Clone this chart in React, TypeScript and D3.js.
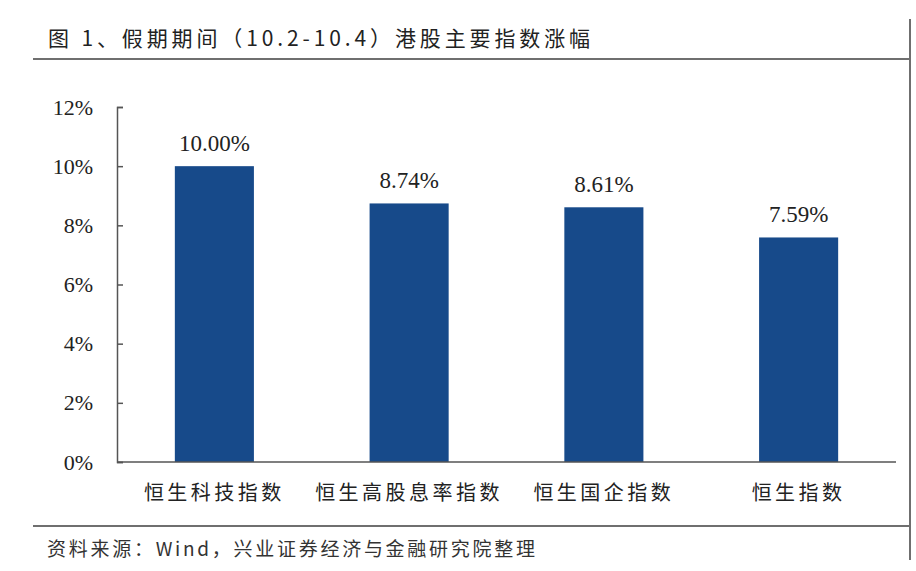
import React, { useEffect, useRef } from "react";
import * as d3 from "d3";

const categories = ["恒生科技指数", "恒生高股息率指数", "恒生国企指数", "恒生指数"];
const values = [10.0, 8.74, 8.61, 7.59];
const yTicks = [0, 2, 4, 6, 8, 10, 12];
const titleText = "图 1、假期期间（10.2-10.4）港股主要指数涨幅";
const sourceText = "资料来源：Wind，兴业证券经济与金融研究院整理";

const W = 916;
const H = 571;
const CJK = "'Noto Sans CJK SC', 'Noto Sans', sans-serif";
const SERIF = "'Liberation Serif', 'DejaVu Serif', serif";

export default function App() {
  const ref = useRef<SVGSVGElement>(null);

  useEffect(() => {
    const svg = d3.select(ref.current);
    svg.selectAll("*").remove();

    // frame lines
    svg.append("line").attr("x1", 33).attr("x2", 911).attr("y1", 59).attr("y2", 59)
      .attr("stroke", "#6f6f6f").attr("stroke-width", 2);
    svg.append("line").attr("x1", 33).attr("x2", 911).attr("y1", 526).attr("y2", 526)
      .attr("stroke", "#6f6f6f").attr("stroke-width", 2);
    svg.append("line").attr("x1", 910).attr("x2", 910).attr("y1", 19).attr("y2", 560)
      .attr("stroke", "#6f6f6f").attr("stroke-width", 2);

    svg.append("text").attr("x", 48).attr("y", 46)
      .attr("font-family", CJK).attr("font-size", 21).attr("fill", "#222")
      .attr("textLength", 542).attr("lengthAdjust", "spacing")
      .text(titleText);

    svg.append("text").attr("x", 47).attr("y", 556)
      .attr("font-family", CJK).attr("font-size", 19).attr("fill", "#333")
      .attr("textLength", 488).attr("lengthAdjust", "spacing")
      .text(sourceText);

    const x = d3.scaleBand<string>().domain(categories).range([117, 896])
      .paddingInner(0.594).paddingOuter(0.297);
    const y = d3.scaleLinear().domain([0, 12]).range([462, 107]);

    const yAxis = d3.axisLeft(y).tickValues(yTicks).tickSize(-6).tickPadding(24)
      .tickFormat((d) => `${d}%`);
    const gy = svg.append("g").attr("transform", "translate(117,0)").call(yAxis);
    gy.select(".domain").attr("stroke", "#555").attr("stroke-width", 1.5);
    gy.selectAll(".tick line").attr("stroke", "#555").attr("stroke-width", 1.5);
    gy.selectAll(".tick text").attr("font-family", SERIF).attr("font-size", 22)
      .attr("fill", "#222").attr("dy", "0.32em");

    svg.selectAll("rect.bar").data(values).enter().append("rect")
      .attr("class", "bar")
      .attr("x", (_, i) => x(categories[i])!)
      .attr("width", x.bandwidth())
      .attr("y", (d) => y(d))
      .attr("height", (d) => y(0) - y(d))
      .attr("fill", "#174a8a");

    svg.selectAll("text.val").data(values).enter().append("text")
      .attr("class", "val")
      .attr("x", (_, i) => x(categories[i])! + x.bandwidth() / 2)
      .attr("y", (d) => y(d) - 15)
      .attr("text-anchor", "middle")
      .attr("font-family", SERIF).attr("font-size", 23).attr("fill", "#222")
      .text((d) => `${d.toFixed(2)}%`);

    // x axis line
    svg.append("line").attr("x1", 117).attr("x2", 896).attr("y1", 462).attr("y2", 462)
      .attr("stroke", "#555").attr("stroke-width", 1.5);

    svg.selectAll("text.cat").data(categories).enter().append("text")
      .attr("class", "cat")
      .attr("x", (d) => x(d)! + x.bandwidth() / 2)
      .attr("y", 500)
      .attr("text-anchor", "middle")
      .attr("font-family", CJK).attr("font-size", 20).attr("fill", "#222")
      .attr("letter-spacing", 3.5)
      .text((d) => d);
  }, []);

  return (
    <svg ref={ref} width={W} height={H}
      style={{ position: "absolute", left: 0, top: 0, background: "#fff" }} />
  );
}
